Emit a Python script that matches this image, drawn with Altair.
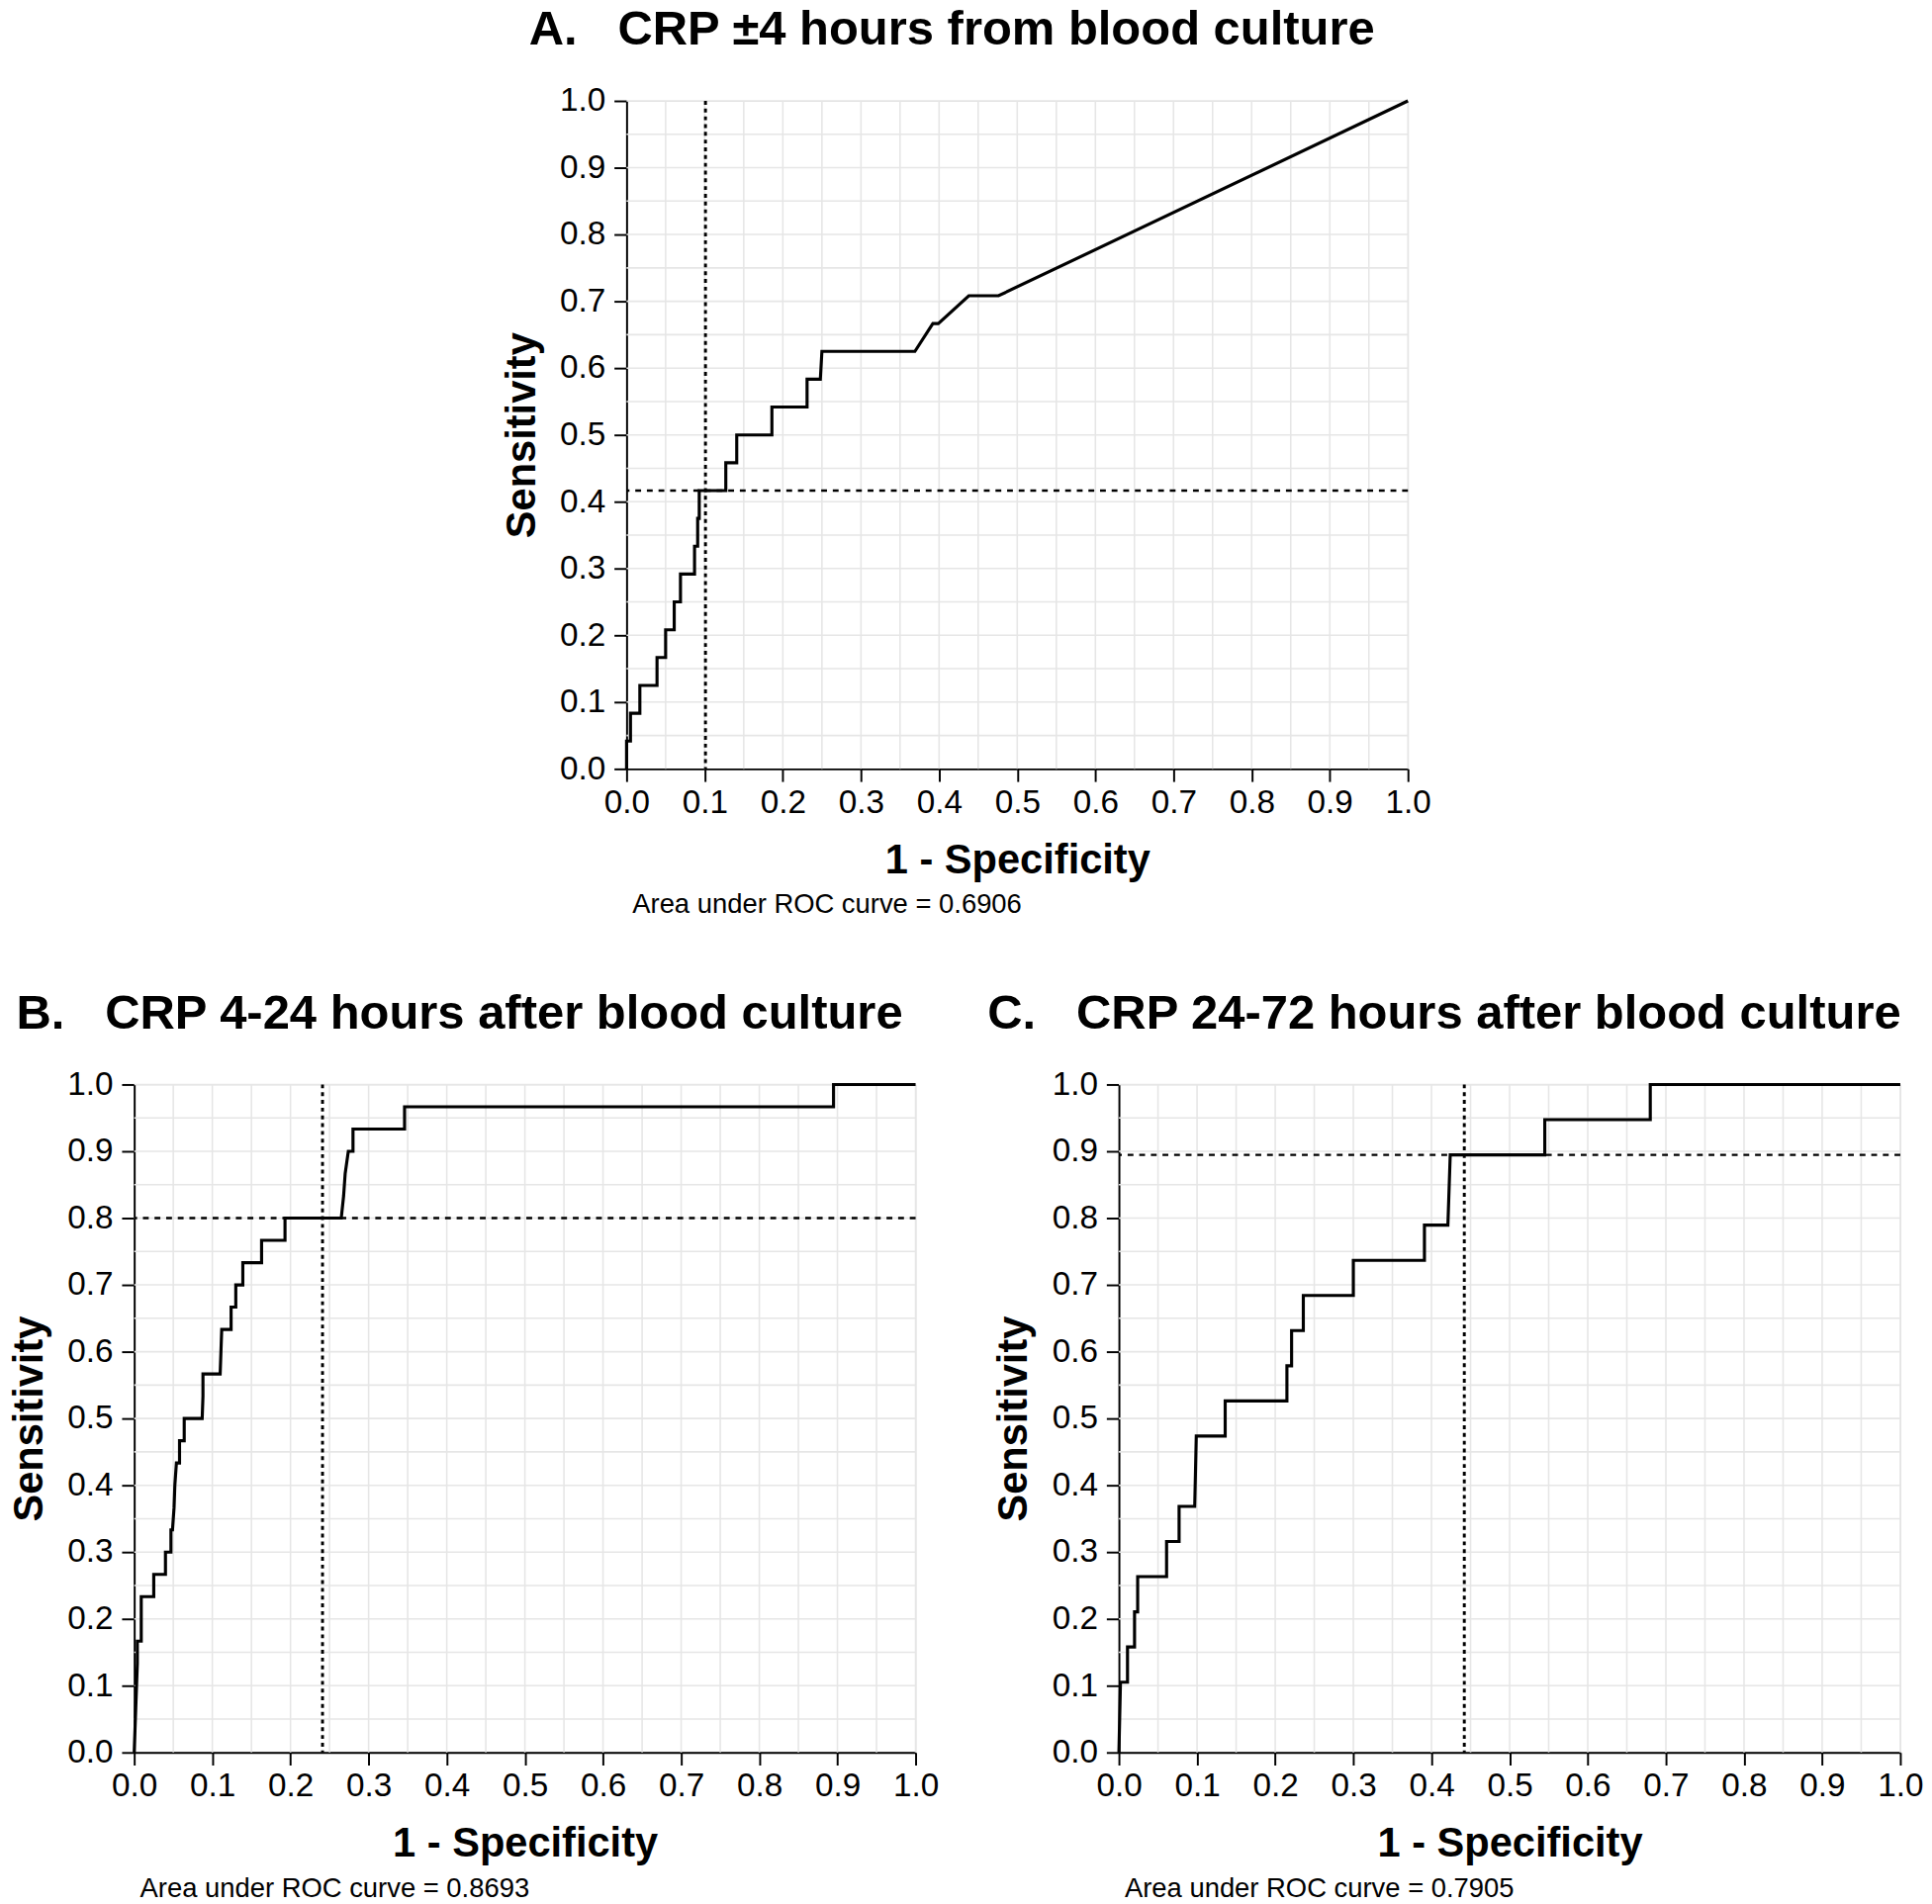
import altair as alt
import pandas as pd

FONT = "Liberation Sans"

# ---------------- data ----------------
tick_values = [0.0, 0.1, 0.2, 0.3, 0.4, 0.5, 0.6, 0.7, 0.8, 0.9, 1.0]
grid_values = [0.05, 0.1, 0.15, 0.2, 0.25, 0.3, 0.35, 0.4, 0.45, 0.5,
               0.55, 0.6, 0.65, 0.7, 0.75, 0.8, 0.85, 0.9, 0.95, 1.0]

titles = ["A.\u00a0\u00a0\u00a0CRP \u00b14 hours from blood culture",
          "B.\u00a0\u00a0\u00a0CRP 4-24 hours after blood culture",
          "C.\u00a0\u00a0\u00a0CRP 24-72 hours after blood culture"]
auc_labels = ["Area under ROC curve = 0.6906",
              "Area under ROC curve = 0.8693",
              "Area under ROC curve = 0.7905"]
cut_fpr = [0.101, 0.241, 0.442]
cut_sens = [0.4167, 0.8, 0.8947]

a_fpr = [0.0, 0.0, 0.005, 0.005, 0.017, 0.017, 0.039, 0.039, 0.050, 0.050,
         0.061, 0.061, 0.069, 0.069, 0.087, 0.087, 0.091, 0.091, 0.093, 0.093,
         0.127, 0.127, 0.141, 0.141, 0.186, 0.186, 0.231, 0.231, 0.248, 0.250,
         0.369, 0.392, 0.399, 0.438, 0.476, 1.0]
a_sens = [0.0, 0.0417, 0.0417, 0.0833, 0.0833, 0.125, 0.125, 0.1667, 0.1667, 0.2083,
          0.2083, 0.25, 0.25, 0.2917, 0.2917, 0.3333, 0.3333, 0.375, 0.375, 0.4167,
          0.4167, 0.4583, 0.4583, 0.5, 0.5, 0.5417, 0.5417, 0.5833, 0.5833, 0.625,
          0.625, 0.6667, 0.6667, 0.7083, 0.7083, 1.0]

b_fpr = [0.0, 0.001, 0.002, 0.003, 0.004, 0.004, 0.009, 0.009, 0.025, 0.025,
         0.040, 0.040, 0.047, 0.047, 0.049, 0.051, 0.052, 0.054, 0.058, 0.058,
         0.064, 0.064, 0.087, 0.088, 0.088, 0.110, 0.111, 0.112, 0.124, 0.124,
         0.130, 0.130, 0.139, 0.139, 0.163, 0.163, 0.193, 0.193, 0.265, 0.268,
         0.270, 0.274, 0.280, 0.280, 0.346, 0.346, 0.895, 0.895, 1.0]
b_sens = [0.0, 0.0333, 0.0667, 0.1, 0.1333, 0.1667, 0.1667, 0.2333, 0.2333, 0.2667,
          0.2667, 0.3, 0.3, 0.3333, 0.3333, 0.3667, 0.4, 0.4333, 0.4333, 0.4667,
          0.4667, 0.5, 0.5, 0.5333, 0.5667, 0.5667, 0.6, 0.6333, 0.6333, 0.6667,
          0.6667, 0.7, 0.7, 0.7333, 0.7333, 0.7667, 0.7667, 0.8, 0.8, 0.8333,
          0.8667, 0.9, 0.9, 0.9333, 0.9333, 0.9667, 0.9667, 1.0, 1.0]

c_fpr = [0.0, 0.001, 0.002, 0.011, 0.011, 0.020, 0.020, 0.024, 0.024, 0.061,
         0.061, 0.077, 0.077, 0.097, 0.098, 0.099, 0.136, 0.136, 0.215, 0.215,
         0.221, 0.221, 0.236, 0.236, 0.300, 0.300, 0.391, 0.391, 0.421, 0.424,
         0.545, 0.545, 0.680, 0.680, 1.0]
c_sens = [0.0, 0.0526, 0.1053, 0.1053, 0.1579, 0.1579, 0.2105, 0.2105, 0.2632, 0.2632,
          0.3158, 0.3158, 0.3684, 0.3684, 0.4211, 0.4737, 0.4737, 0.5263, 0.5263, 0.5789,
          0.5789, 0.6316, 0.6316, 0.6842, 0.6842, 0.7368, 0.7368, 0.7895, 0.7895, 0.8947,
          0.8947, 0.9474, 0.9474, 1.0, 1.0]

W, H = 807, 690

scale = alt.Scale(domain=[0, 1], nice=False, zero=False)

common_axis = dict(values=tick_values, format=".1f", grid=False,
                   labelFont=FONT, labelFontSize=34, labelColor="black",
                   titleFont=FONT, titleFontSize=42.5, titleFontWeight="bold",
                   titleColor="black", tickSize=13, tickWidth=2, tickColor="black",
                   domainColor="black", domainWidth=2, labelOverlap=False,
                   labelFlush=False, labelBound=False)
x_axis = alt.Axis(labelPadding=5, titlePadding=21, **common_axis)
y_axis = alt.Axis(labelPadding=9, titlePadding=17, **common_axis)


def X(field):
    return alt.X(field, scale=scale, axis=x_axis, title="1 - Specificity")


def Y(field):
    return alt.Y(field, scale=scale, axis=y_axis, title="Sensitivity")


def panel(k, fpr, sens):
    grid_df = pd.DataFrame({"g": grid_values})
    gx = alt.Chart(grid_df).mark_rule(color="#e6e6e6", strokeWidth=1.6).encode(
        x=X("g:Q"))
    gy = alt.Chart(grid_df).mark_rule(color="#e6e6e6", strokeWidth=1.6).encode(
        y=Y("g:Q"))
    vref = alt.Chart(pd.DataFrame({"v": [cut_fpr[k]]})).mark_rule(
        color="black", strokeWidth=3, strokeDash=[4, 4]).encode(x=X("v:Q"))
    href = alt.Chart(pd.DataFrame({"h": [cut_sens[k]]})).mark_rule(
        color="black", strokeWidth=2.4, strokeDash=[6, 6]).encode(y=Y("h:Q"))
    df = pd.DataFrame({"fpr": fpr, "sens": sens, "i": list(range(len(fpr)))})
    curve = alt.Chart(df).mark_line(color="black", strokeWidth=3.2,
                                    strokeJoin="miter").encode(
        x=X("fpr:Q"), y=Y("sens:Q"), order=alt.Order("i:Q"))
    auc = alt.Chart(pd.DataFrame({"t": [auc_labels[k]]})).mark_text(
        align="left", baseline="alphabetic", font=FONT, fontSize=28,
        color="black").encode(text="t:N", x=alt.value(6), y=alt.value(H + 149))
    ttl = alt.Chart(pd.DataFrame({"t": [titles[k]]})).mark_text(
        align="center", baseline="alphabetic", font=FONT, fontSize=50,
        fontWeight="bold", color="black").encode(
        text="t:N", x=alt.value(336), y=alt.value(-58))
    return alt.layer(gx, gy, vref, href, curve, auc, ttl).properties(width=W, height=H)


pa = panel(0, a_fpr, a_sens)
pb = panel(1, b_fpr, b_sens)
pc = panel(2, c_fpr, c_sens)

chart = alt.vconcat(pa, alt.hconcat(pb, pc, spacing=48), spacing=71, center=True).properties(
    padding={"left": 0, "top": -24, "right": 0, "bottom": 5}
).configure_view(stroke=None).configure(font=FONT)

chart.save("out.html", embed_options={"renderer": "svg", "actions": False})
